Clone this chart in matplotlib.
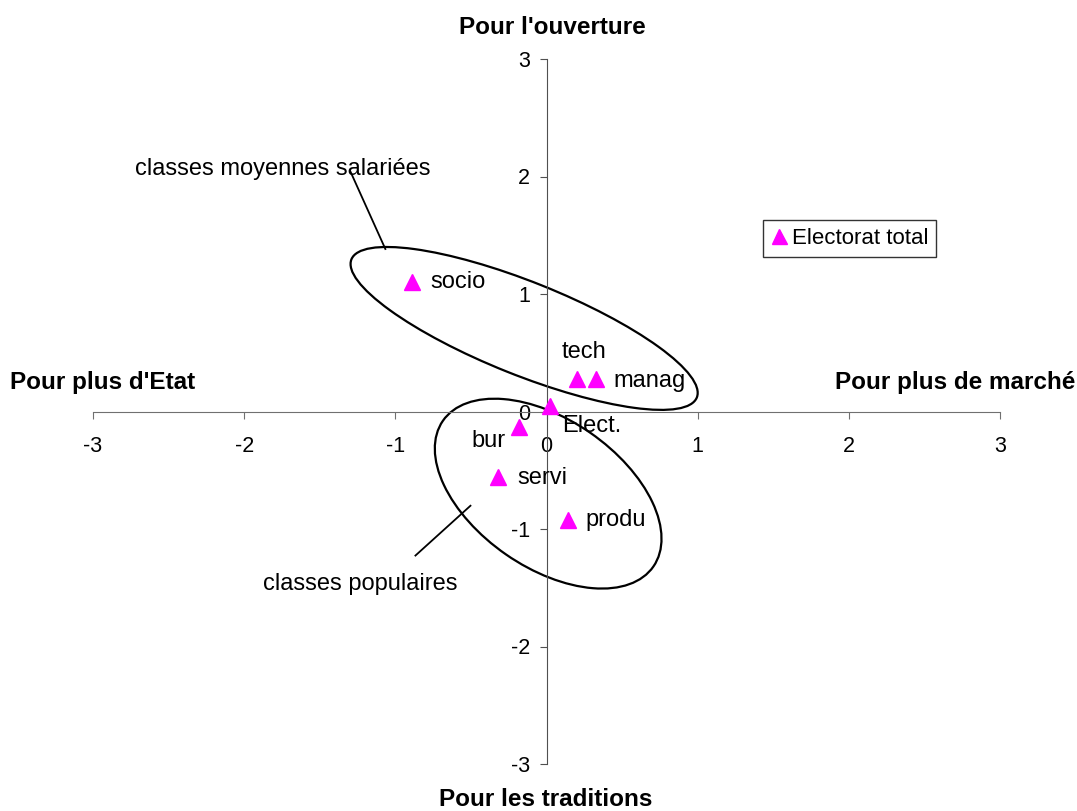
import numpy as np
import matplotlib
matplotlib.use("Agg")
import matplotlib.pyplot as plt
from matplotlib.patches import Ellipse
from matplotlib.transforms import IdentityTransform

plt.rcParams['font.family'] = ['Liberation Sans', 'DejaVu Sans']

# positions des catégories (axe marché / axe ouverture)
noms = ['socio', 'tech', 'manag', 'Elect.', 'bur', 'servi', 'produ']
x_vals = [-0.89, 0.20, 0.33, 0.02, -0.18, -0.32, 0.14]
y_vals = [1.10, 0.28, 0.28, 0.05, -0.13, -0.56, -0.92]
ticks = [-3, -2, -1, 0, 1, 2, 3]

W, H = 1077, 811
fig = plt.figure(figsize=(W / 100, H / 100), dpi=100)
ax = fig.add_axes([93 / W, 47 / H, 907 / W, 705 / H])
ax.set_xlim(-3, 3)
ax.set_ylim(-3, 3)

# axes croisés en 0
for s in ['top', 'right']:
    ax.spines[s].set_visible(False)
ax.spines['left'].set_position(('data', 0))
ax.spines['bottom'].set_position(('data', 0))
ax.spines['left'].set_color('#505050')
ax.spines['bottom'].set_color('#707070')
ax.set_xticks(ticks)
ax.set_yticks(ticks)
ax.set_xticklabels([str(t) for t in ticks])
ax.set_yticklabels([str(t) for t in ticks])
ax.tick_params(axis='x', direction='out', length=5, pad=13, labelsize=15.5, color='#707070')
ax.tick_params(axis='y', direction='out', length=5, pad=7, labelsize=15.5, color='#505050')

ax.plot(x_vals, y_vals, linestyle='none', marker='^', markersize=12,
        color='#ff00ff', label='Electorat total', clip_on=False, zorder=5)

# étiquettes des points (décalage en pixels)
offsets = {'socio': (18, 0, 'left'), 'tech': (-15, 27, 'left'),
           'manag': (17, -2, 'left'), 'Elect.': (13, -20, 'left'),
           'bur': (-14, -14, 'right'), 'servi': (19, -1, 'left'),
           'produ': (18, 0, 'left')}
for n, x, y in zip(noms, x_vals, y_vals):
    dx, dy, ha = offsets[n]
    ax.annotate(n, (x, y), xytext=(dx, dy), textcoords='offset pixels',
                ha=ha, va='center', fontsize=17)

# ellipses de regroupement
fig.canvas.draw()
c1 = ax.transData.transform((-0.148, 0.707))
c2 = ax.transData.transform((0.011, -0.699))
ax.add_patch(Ellipse(c1, 372, 93, angle=-21.8, transform=IdentityTransform(),
                     fill=False, lw=1.6, color='black'))
ax.add_patch(Ellipse(c2, 256, 148, angle=-34.7, transform=IdentityTransform(),
                     fill=False, lw=1.6, color='black'))

ax.plot([-1.298, -1.066], [2.045, 1.383], color='black', lw=1.3)
ax.plot([-0.503, -0.867], [-0.802, -1.226], color='black', lw=1.3)
ax.text(-1.743, 2.06, 'classes moyennes salariées', ha='center', va='center', fontsize=17)
ax.text(-1.232, -1.47, 'classes populaires', ha='center', va='center', fontsize=17)

# titres des quatre directions
fig.text(552 / W, 1 - 27 / H, "Pour l'ouverture", ha='center', va='center',
         fontsize=17.5, fontweight='bold')
fig.text(546 / W, 1 - 800 / H, 'Pour les traditions', ha='center', va='center',
         fontsize=17.5, fontweight='bold')
fig.text(10 / W, 1 - 382 / H, "Pour plus d'Etat", ha='left', va='center',
         fontsize=17.5, fontweight='bold')
fig.text(1075 / W, 1 - 382 / H, 'Pour plus de marché', ha='right', va='center',
         fontsize=17.5, fontweight='bold')

leg = ax.legend(loc='upper left', bbox_to_anchor=(763 / W, 1 - 220 / H),
                bbox_transform=fig.transFigure, fontsize=16, frameon=True,
                fancybox=False, handlelength=0.7, handletextpad=0.25,
                borderpad=0.35, borderaxespad=0, markerscale=0.9)
leg.get_frame().set_edgecolor('black')
leg.get_frame().set_linewidth(1)

fig.savefig('out.png', dpi=100)
